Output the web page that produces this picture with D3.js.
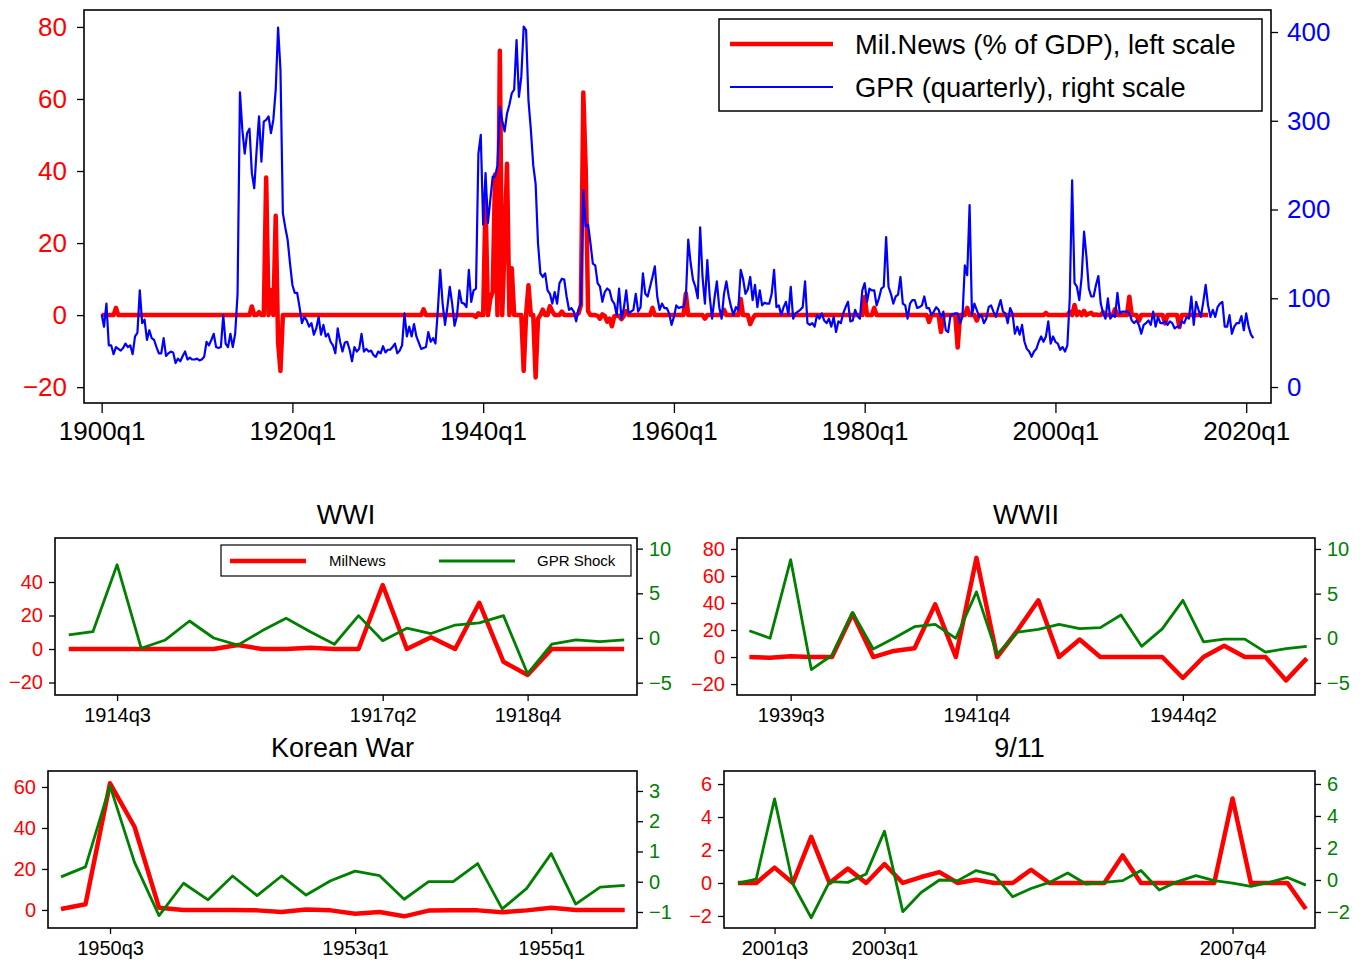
<!DOCTYPE html>
<html>
<head>
<meta charset="utf-8">
<script src="https://cdn.jsdelivr.net/npm/d3@7"></script>
<style>
  body { margin: 0; background: #fff; }
  svg text { font-family: "Liberation Sans", Arial, Helvetica, sans-serif; }
</style>
</head>
<body>
<svg id="chart" width="1370" height="962"></svg>
<script>
// quarterly data, index 0 = 1900q1
var startYear = 1900;

// GPR index (quarterly), right scale of the top chart
var gprQuarterly = [
  82, 68, 94, 47, 47, 37, 45, 43, 41, 44, 49, 45, 47, 37, 57, 61, 109, 72, 76, 53,
  64, 55, 53, 45, 38, 38, 55, 35, 38, 40, 39, 27, 32, 29, 35, 40, 31, 33, 31, 31,
  32, 30, 31, 34, 51, 47, 53, 60, 45, 44, 45, 81, 49, 45, 60, 45, 60, 105, 332, 290,
  263, 286, 291, 241, 224, 267, 305, 254, 299, 301, 305, 286, 301, 335, 405, 357, 196, 180, 166, 139,
  115, 106, 106, 90, 72, 79, 75, 68, 72, 59, 66, 79, 59, 70, 57, 60, 51, 47, 38, 66,
  51, 40, 50, 51, 42, 29, 45, 40, 43, 60, 40, 43, 40, 41, 36, 34, 40, 38, 46, 39,
  42, 42, 45, 49, 38, 41, 47, 83, 57, 68, 57, 71, 57, 50, 43, 44, 45, 62, 51, 55,
  49, 87, 132, 94, 70, 90, 113, 94, 69, 80, 109, 95, 94, 90, 132, 96, 109, 111, 263, 284,
  183, 241, 185, 211, 237, 237, 250, 316, 300, 288, 308, 318, 331, 335, 391, 327, 350, 406, 402, 323,
  290, 250, 229, 162, 128, 124, 128, 109, 105, 94, 107, 94, 117, 122, 121, 102, 87, 89, 85, 74,
  87, 94, 222, 181, 183, 162, 139, 137, 117, 113, 96, 107, 111, 109, 98, 94, 81, 111, 77, 89,
  109, 83, 85, 87, 105, 85, 90, 128, 105, 102, 113, 124, 136, 102, 87, 94, 89, 89, 83, 70,
  79, 92, 89, 90, 90, 100, 166, 140, 121, 113, 100, 180, 124, 94, 143, 102, 77, 100, 119, 90,
  77, 105, 119, 102, 90, 81, 90, 87, 132, 122, 105, 110, 124, 98, 115, 90, 109, 92, 95, 94,
  94, 105, 132, 90, 92, 81, 90, 96, 81, 113, 77, 83, 85, 87, 90, 119, 72, 70, 72, 68,
  81, 77, 83, 75, 72, 77, 68, 79, 62, 74, 72, 83, 90, 96, 74, 75, 87, 80, 77, 109,
  117, 96, 111, 109, 109, 92, 100, 111, 113, 169, 113, 105, 94, 102, 104, 124, 94, 92, 77, 94,
  98, 98, 89, 90, 92, 102, 89, 89, 81, 85, 90, 87, 79, 85, 64, 62, 81, 82, 83, 83,
  72, 79, 137, 126, 205, 81, 94, 87, 79, 81, 72, 77, 90, 92, 85, 79, 89, 98, 85, 83,
  72, 89, 83, 60, 68, 59, 70, 51, 43, 40, 34, 40, 43, 51, 57, 51, 57, 74, 49, 57,
  51, 49, 42, 45, 40, 47, 100, 233, 117, 113, 98, 124, 175, 147, 111, 102, 102, 115, 125, 94,
  83, 77, 100, 77, 81, 79, 106, 83, 85, 85, 85, 83, 75, 72, 75, 70, 60, 70, 72, 75,
  70, 85, 68, 79, 72, 72, 74, 70, 74, 72, 66, 68, 68, 74, 72, 79, 77, 102, 70, 96,
  87, 79, 96, 115, 92, 79, 87, 79, 90, 94, 96, 68, 68, 81, 60, 68, 72, 72, 80, 64,
  83, 68, 59, 55
];

// military news (% of GDP), left scale, 1900q1 - 2016q1
var milNews = [
  0, 0, 0, 0, 0, 0, 2, 0, 0, 0, 0, 0, 0, 0, 0, 0, 0, 0, 0, 0,
  0, 0, 0, 0, 0, 0, 0, 0, 0, 0, 0, 0, 0, 0, 0, 0, 0, 0, 0, 0,
  0, 0, 0, 0, 0, 0, 0, 0, 0, 0, 0, 0, 0, 0, 0, 0, 0, 0, 0, 0,
  0, 0, 0, 2.4, 0, 0, 0.8, 0, 0, 38.2, 0, 7, 0, 27.6, -7.6, -15.5, 0, 0, 0, 0,
  0, 0, 0, 0, 0, 0, 0, 0, 0, 0, 0, 0, 0, 0, 0, 0, 0, 0, 0, 0,
  0, 0, 0, 0, 0, 0, 0, 0, 0, 0, 0, 0, 0, 0, 0, 0, 0, 0, 0, 0,
  0, 0, 0, 0, 0, 0, 0, 0, 0, 0, 0, 0, 0, 0, 0, 1.6, 0, 0, 0, 0,
  0, 0, 0, 0, 0, 0, 0, 0, 0, 0, 0, 0, 0, 0, 0, 0, 0, -0.5, 0.5, 0,
  0, 32, 0, 4.5, 6.5, 39, 0, 73.4, 0, 20, 42, 0, 13, 0, 0, 0, 0, -15.5, 0, 8.3,
  0, 0, -17.3, -1, 0, 1.5, 0, 0, 2.5, 1, 0, 0, 0, 1, 0, 0, 0, 0, 0, 0,
  0.5, 2.8, 61.8, 40.6, 1.1, 0, 0, 0, -0.2, -1, 0.2, -0.2, -1.8, -1, -3.1, -0.3, -0.2, -0.2, -1.1, -0.2,
  1.1, 0, 0, 0, 0, 0, 0, 0, 0, 0, 0, 2, 0, 0, 0, 0, 0, 0, 0, 0,
  0, 0, 0, 0, 0, 6, 0, 0, 0, 0, 0, 0, 0, -1, 0, 0, 0, 0, 0, 0,
  0, 1.5, 0, 0, 0, 0, 0, 0, 4.5, 0, 0, 0, -2.5, -1, 0, 0, 0, 0, 0, 0,
  0, 0, 0, 0, 0, 0, 0, 0, 0, 0, 0, 0, 0, 0, 0, 0, 0, 0, 0, 0,
  0, 0, 0, 0, 0, 0, 0, 0, 0, 0, 0, 0, 0, 0, 0, 0, 0, 0, 0, 0,
  5, 0, 0, 0, 2, 0, 0, 0, 0, 0, 0, 0, 0, 0, 0, 0, 0, 0, 0, 0,
  0, 0, 0, 0, 0, 0, 0, -1.9, 0, 0, 0, 0, -4.7, 0, 0, 0, 0, 0, 0, -9,
  0, 0, 0, 2, 0, 0, 0, -1.5, 0, 0, 0, 0, 0, 0, 0, 0, 0, 0, 0, 0,
  0, 0, 0, 0, 0, 0, 0, 0, 0, 0, 0, 0, 0, 0, 0, 0, 0.6, 0, 0, 0,
  0, 0, 0, 0, 0, 0, 0.93, 0, 2.8, 0, 0.87, 0, 1.15, 0, 0.36, 0.66, 0, 0.2, 0, 0,
  0.8, 0, 0, 0, 0, 1.67, 0, 0, 0, 0, 0, 5.12, 0, 0, 0, -1.58, 0, 0, 0, 0,
  0, 0, 0, 0, 0, 0, -2.3, 0, 0, 0, 0, 0, -3.3, 0, 0, 0, 0, 0, 0, 0,
  0, 0, 0, 0, 0
];

// GPR shocks for the four episodes
var wwiShock = [0.34, 0.7, 8.2, -1.15, -0.22, 1.9, 0, -0.8, 0.8, 2.2, 0.7, -0.7,
  2.5, -0.3, 1.1, 0.5, 1.45, 1.7, 2.5, -4.0, -0.7, -0.22, -0.4, -0.22];
var wwiiShock = [0.85, 0, 8.8, -3.5, -1.9, 2.9, -1.2, 0, 1.3, 1.55, 0, 5.2, -1.8, 0.7,
  1.0, 1.55, 1.08, 1.2, 2.6, -0.9, 1.05, 4.25, -0.4, -0.1, -0.1, -1.55, -1.15, -0.9];
var koreaShock = [0.16, 0.49, 3.17, 0.64, -1.12, -0.05, -0.6, 0.19, -0.46, 0.19, -0.44, 0.03,
  0.35, 0.2, -0.58, 0, 0, 0.6, -0.9, -0.22, 0.93, -0.74, -0.18, -0.12];
var nineElevenShock = [-0.19, 0.06, 5.07, -0.25, -2.36, -0.1, -0.15, 0.38, 3.05, -1.98, -0.78, 0,
  -0.04, 0.59, 0.31, -1.05, -0.53, -0.15, 0.44, -0.25, -0.15, -0.04, 0.59, -0.63,
  -0.1, 0.27, -0.04, -0.19, -0.4, -0.15, 0.16, -0.32];

// tick values
var topXTicks = [0, 80, 160, 240, 320, 400, 480];
var topLeftTicks = [-20, 0, 20, 40, 60, 80];
var topRightTicks = [0, 100, 200, 300, 400];

var legendTop = ["Mil.News (% of GDP), left scale", "GPR (quarterly), right scale"];
var legendPanel = ["MilNews", "GPR Shock"];

var RED = "#ff0000", BLUE = "#0000ff", GREEN = "#008000";

function qLabel(i) {
  return (startYear + Math.floor(i / 4)) + "q" + (i % 4 + 1);
}

var svg = d3.select("#chart");
var fmt = d3.format("");

function styleAxis(g, size, color) {
  g.select(".domain").remove();
  g.selectAll(".tick line").attr("stroke", "#000").attr("stroke-width", 1.3);
  g.selectAll(".tick text").attr("fill", color).style("font-size", size + "px");
}

// ---------- top chart ----------
var topG = svg.append("g");
var tx = d3.scaleLinear().domain([-7.4, 490.4]).range([84, 1271]);
var tyL = d3.scaleLinear().domain([-24.4, 84.7]).range([403, 10]);
var tyR = d3.scaleLinear().domain([-18, 424.8]).range([403, 10]);

topG.append("g").attr("transform", "translate(84,0)")
  .call(d3.axisLeft(tyL).tickValues(topLeftTicks).tickFormat(fmt).tickSize(7).tickPadding(10))
  .call(styleAxis, 26, RED);
topG.append("g").attr("transform", "translate(1271,0)")
  .call(d3.axisRight(tyR).tickValues(topRightTicks).tickFormat(fmt).tickSize(7).tickPadding(9))
  .call(styleAxis, 26, BLUE);
topG.append("g").attr("transform", "translate(0,403)")
  .call(d3.axisBottom(tx).tickValues(topXTicks).tickFormat(qLabel).tickSize(10).tickPadding(9))
  .call(styleAxis, 26, "#000");

var redLine = d3.line().x(function(d, i) { return tx(i); }).y(function(d) { return tyL(d); });
var blueLine = d3.line().x(function(d, i) { return tx(i); }).y(function(d) { return tyR(d); });

topG.append("path").datum(milNews).attr("d", redLine)
  .attr("fill", "none").attr("stroke", RED).attr("stroke-width", 4.5).attr("stroke-linejoin", "round");
topG.append("path").datum(gprQuarterly).attr("d", blueLine)
  .attr("fill", "none").attr("stroke", BLUE).attr("stroke-width", 2.2).attr("stroke-linejoin", "round");

topG.append("rect").attr("x", 84).attr("y", 10).attr("width", 1187).attr("height", 393)
  .attr("fill", "none").attr("stroke", "#000").attr("stroke-width", 1.6);

// legend of the top chart
var lg = topG.append("g");
lg.append("rect").attr("x", 719).attr("y", 19).attr("width", 543).attr("height", 92)
  .attr("fill", "#fff").attr("stroke", "#000").attr("stroke-width", 1.5);
[[RED, 4.5, 44], [BLUE, 2.2, 87]].forEach(function(s, k) {
  lg.append("line").attr("x1", 730).attr("x2", 833).attr("y1", s[2]).attr("y2", s[2])
    .attr("stroke", s[0]).attr("stroke-width", s[1]);
  lg.append("text").attr("x", 855).attr("y", s[2] + 10).style("font-size", "27.3px")
    .text(legendTop[k]);
});

// ---------- episode panels ----------
var panels = [
  { title: "WWI", start: 56, shock: wwiShock, left: 55, right: 637, topY: 538, bottom: 695,
    xDom: [-0.57, 23.53], yLDom: [-27.46, 66.27], yRDom: [-6.38, 11.19],
    lTicks: [-20, 0, 20, 40], rTicks: [-5, 0, 5, 10], xTicks: [2, 13, 19], legend: true },
  { title: "WWII", start: 156, shock: wwiiShock, left: 737, right: 1315, topY: 538, bottom: 695,
    xDom: [-0.6, 27.4], yLDom: [-28.1, 88.1], yRDom: [-6.35, 11.23],
    lTicks: [-20, 0, 20, 40, 60, 80], rTicks: [-5, 0, 5, 10], xTicks: [2, 11, 21] },
  { title: "Korean War", start: 200, shock: koreaShock, left: 48, right: 637, topY: 771, bottom: 928,
    xDom: [-0.53, 23.5], yLDom: [-8.8, 67.8], yRDom: [-1.53, 3.66],
    lTicks: [0, 20, 40, 60], rTicks: [-1, 0, 1, 2, 3], xTicks: [2, 12, 20] },
  { title: "9/11", start: 404, shock: nineElevenShock, left: 724, right: 1315, topY: 771, bottom: 928,
    xDom: [-0.76, 31.5], yLDom: [-2.73, 6.79], yRDom: [-3, 6.81],
    lTicks: [-2, 0, 2, 4, 6], rTicks: [-2, 0, 2, 4, 6], xTicks: [2, 8, 27] }
];

panels.forEach(function(p) {
  var g = svg.append("g");
  var x = d3.scaleLinear().domain(p.xDom).range([p.left, p.right]);
  var yL = d3.scaleLinear().domain(p.yLDom).range([p.bottom, p.topY]);
  var yR = d3.scaleLinear().domain(p.yRDom).range([p.bottom, p.topY]);
  var news = milNews.slice(p.start, p.start + p.shock.length);

  g.append("g").attr("transform", "translate(" + p.left + ",0)")
    .call(d3.axisLeft(yL).tickValues(p.lTicks).tickFormat(fmt).tickSize(6).tickPadding(6))
    .call(styleAxis, 20, RED);
  g.append("g").attr("transform", "translate(" + p.right + ",0)")
    .call(d3.axisRight(yR).tickValues(p.rTicks).tickFormat(fmt).tickSize(6).tickPadding(6))
    .call(styleAxis, 20, GREEN);
  g.append("g").attr("transform", "translate(0," + p.bottom + ")")
    .call(d3.axisBottom(x).tickValues(p.xTicks)
      .tickFormat(function(q) { return qLabel(p.start + q); }).tickSize(6).tickPadding(7))
    .call(styleAxis, 20, "#000");

  g.append("path").datum(news)
    .attr("d", d3.line().x(function(d, i) { return x(i); }).y(function(d) { return yL(d); }))
    .attr("fill", "none").attr("stroke", RED).attr("stroke-width", 4.5).attr("stroke-linejoin", "round");
  g.append("path").datum(p.shock)
    .attr("d", d3.line().x(function(d, i) { return x(i); }).y(function(d) { return yR(d); }))
    .attr("fill", "none").attr("stroke", GREEN).attr("stroke-width", 2.8).attr("stroke-linejoin", "round");

  g.append("rect").attr("x", p.left).attr("y", p.topY)
    .attr("width", p.right - p.left).attr("height", p.bottom - p.topY)
    .attr("fill", "none").attr("stroke", "#000").attr("stroke-width", 1.6);

  g.append("text").attr("x", (p.left + p.right) / 2).attr("y", p.topY - 14)
    .attr("text-anchor", "middle").style("font-size", "27px").text(p.title);

  if (p.legend) {
    var lgp = g.append("g");
    lgp.append("rect").attr("x", 221).attr("y", 545).attr("width", 410).attr("height", 31)
      .attr("fill", "#fff").attr("stroke", "#000").attr("stroke-width", 1.2);
    [[RED, 4.5, 230, 329], [GREEN, 2.8, 439, 537]].forEach(function(s, k) {
      lgp.append("line").attr("x1", s[2]).attr("x2", s[2] + 76).attr("y1", 561).attr("y2", 561)
        .attr("stroke", s[0]).attr("stroke-width", s[1]);
      lgp.append("text").attr("x", s[3]).attr("y", 566).style("font-size", "15px").text(legendPanel[k]);
    });
  }
});
</script>
</body>
</html>
